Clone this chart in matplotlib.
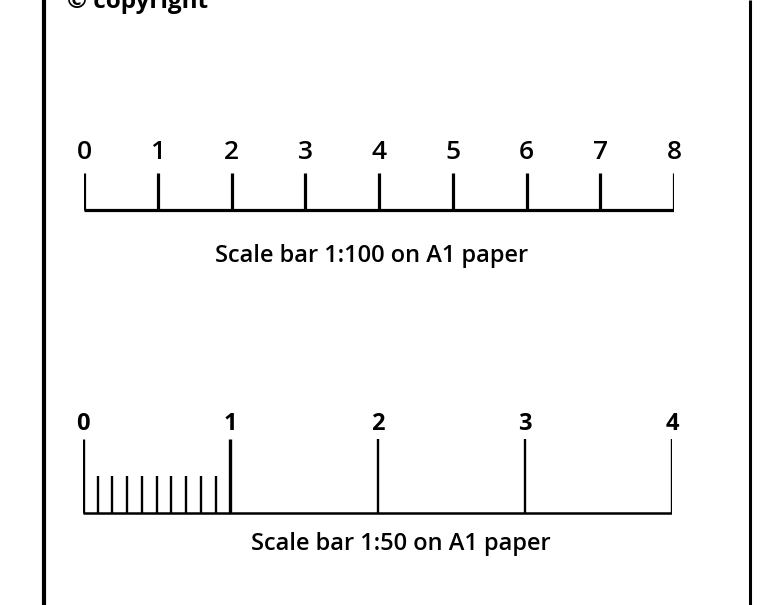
import matplotlib
matplotlib.use("Agg")
import matplotlib.pyplot as plt
import numpy as np

plt.rcParams['font.family'] = ['Open Sans', 'DejaVu Sans']

# data
top_ticks = [0, 1, 2, 3, 4, 5, 6, 7, 8]
top_labels = ['0', '1', '2', '3', '4', '5', '6', '7', '8']
top_caption = 'Scale bar 1:100 on A1 paper'

bot_major = [0, 1, 2, 3, 4]
bot_labels = ['0', '1', '2', '3', '4']
bot_minor = [0.1, 0.2, 0.3, 0.4, 0.5, 0.6, 0.7, 0.8, 0.9]
bot_caption = 'Scale bar 1:50 on A1 paper'
copyright_text = '© copyright'

W, H = 765, 605
fig = plt.figure(figsize=(W / 100, H / 100), dpi=100)
fig.patch.set_facecolor('white')

# frame lines (full figure axes in pixel coords)
axf = fig.add_axes([0, 0, 1, 1])
axf.set_xlim(0, W)
axf.set_ylim(H, 0)
axf.axis('off')
axf.plot([44.5, 44.5], [0, H], color='black', lw=3.0, solid_capstyle='butt')
axf.plot([750, 750], [0, H], color='black', lw=2.2, solid_capstyle='butt')
axf.text(67, 8, copyright_text, fontsize=17.5, fontweight='bold', ha='left', va='baseline')

# top scale bar
ax1 = fig.add_axes([84 / W, 0, (674 - 84) / W, 1])
ax1.set_xlim(top_ticks[0], top_ticks[-1])
ax1.set_ylim(H, 0)
ax1.axis('off')
ax1.vlines(top_ticks, 173, 210, color='black', lw=2.3)
ax1.hlines(210, top_ticks[0], top_ticks[-1], color='black', lw=2.3)
for t, lab in zip(top_ticks, top_labels):
    ax1.text(t, 159, lab, fontsize=19, fontweight='semibold', ha='center', va='baseline')
ax1.text(3.905, 262, top_caption, fontsize=17, fontweight='semibold', ha='center', va='baseline')

# bottom scale bar
ax2 = fig.add_axes([83 / W, 0, (672 - 83) / W, 1])
ax2.set_xlim(bot_major[0], bot_major[-1])
ax2.set_ylim(H, 0)
ax2.axis('off')
ax2.vlines(bot_major[:2], 439, 513, color='black', lw=2.4)
ax2.vlines(bot_major[2:], 439, 513, color='black', lw=1.7)
ax2.vlines(bot_minor, 476, 513, color='black', lw=1.7)
ax2.hlines(513, bot_major[0], bot_major[-1], color='black', lw=1.8)
for t, lab in zip(bot_major, bot_labels):
    ax2.text(t, 430, lab, fontsize=17, fontweight='bold', ha='center', va='baseline')
ax2.text(2.16, 550, bot_caption, fontsize=17, fontweight='semibold', ha='center', va='baseline')

fig.savefig('out.png', dpi=100, facecolor='white')
